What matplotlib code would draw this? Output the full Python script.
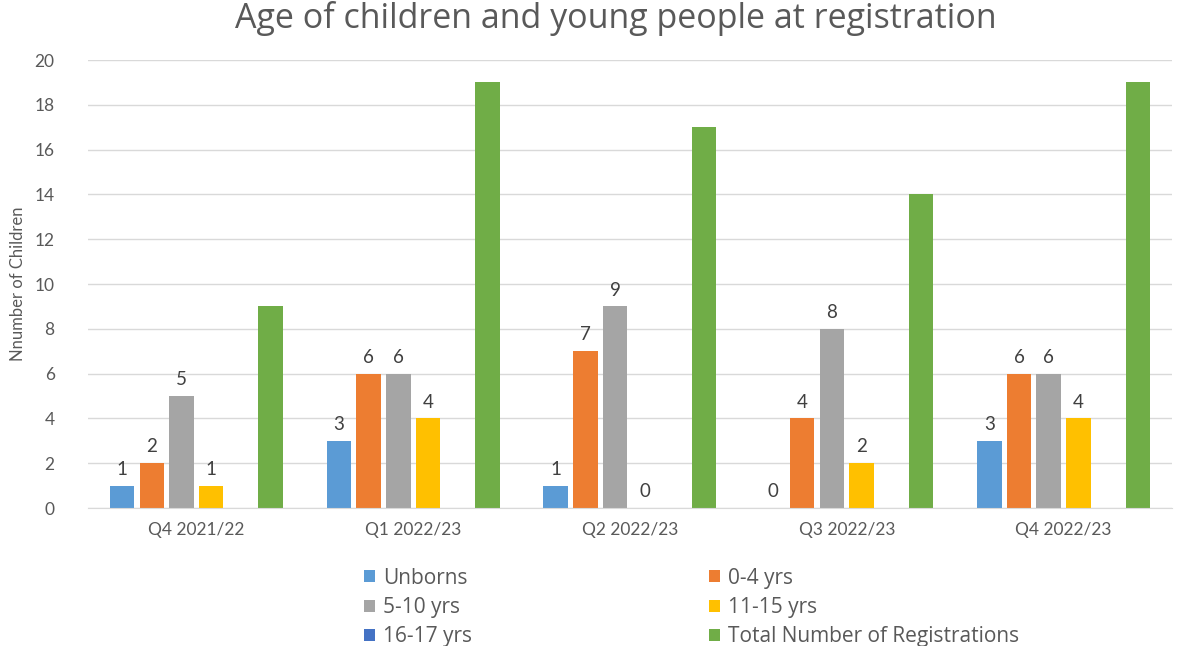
import matplotlib.pyplot as plt
import numpy as np

quarters = ["Q4 2021/22", "Q1 2022/23", "Q2 2022/23", "Q3 2022/23", "Q4 2022/23"]
series_names = ["Unborns", "0-4 yrs", "5-10 yrs", "11-15 yrs", "16-17 yrs",
                "Total Number of Registrations"]
unborns = [1, 3, 1, 0, 3]
age_0_4 = [2, 6, 7, 4, 6]
age_5_10 = [5, 6, 9, 8, 6]
age_11_15 = [1, 4, 0, 2, 4]
age_16_17 = [0, 0, 0, 0, 0]
total = [9, 19, 17, 14, 19]
labelled = [True, True, True, True, False, False]

colors = ["#5B9BD5", "#ED7D31", "#A5A5A5", "#FFC000", "#4472C4", "#70AD47"]
all_series = [unborns, age_0_4, age_5_10, age_11_15, age_16_17, total]

plt.rcParams['font.family'] = ['Lato', 'DejaVu Sans']
txt = "#595959"

fig = plt.figure(figsize=(12.02, 6.46), dpi=100)
ax = fig.add_axes([0.0732, 0.2136, 0.9018, 0.6934])

x = np.arange(len(quarters))
slot = 0.137
bw = 0.113
handles = []
for i, (vals, name, col) in enumerate(zip(all_series, series_names, colors)):
    off = (i - 2.5) * slot
    b = ax.bar(x + off, vals, bw, color=col, label=name)
    handles.append(b)
    if labelled[i]:
        for xi, v in zip(x, vals):
            ax.text(xi + off, v + 0.35, str(v), ha='center', va='bottom',
                    fontsize=13.5, color="#404040")

ax.set_ylim(0, 20)
ax.set_xlim(-0.5, 4.5)
ax.set_yticks(range(0, 21, 2))
ax.yaxis.grid(True, color="#d9d9d9", linewidth=1)
ax.set_axisbelow(True)
for s in ["top", "right", "left"]:
    ax.spines[s].set_visible(False)
ax.spines["bottom"].set_color("#d9d9d9")
ax.tick_params(axis='both', length=0, colors=txt, labelsize=12.5)
ax.tick_params(axis='x', pad=10)
ax.tick_params(axis='y', pad=24)
ax.set_xticks(x)
ax.set_xticklabels(quarters)
ax.set_ylabel("Nnumber of Children", color=txt, fontsize=12, labelpad=6)

fig.suptitle("Age of children and young people at registration", x=0.512, y=0.998,
             fontsize=24.5, color=txt, va='top', family=['Open Sans', 'DejaVu Sans'])

order = [0, 2, 4, 1, 3, 5]
leg = fig.legend([handles[i] for i in order], [series_names[i] for i in order],
                 ncol=2, loc='upper left', bbox_to_anchor=(0.296, 0.134),
                 frameon=False, prop={'family': ['Open Sans', 'DejaVu Sans'], 'size': 15},
                 handlelength=0.5, handleheight=0.5,
                 handletextpad=0.4, columnspacing=11.4, labelspacing=0.4,
                 borderaxespad=0)
for t in leg.get_texts():
    t.set_color(txt)

fig.savefig("out.png", dpi=100)
